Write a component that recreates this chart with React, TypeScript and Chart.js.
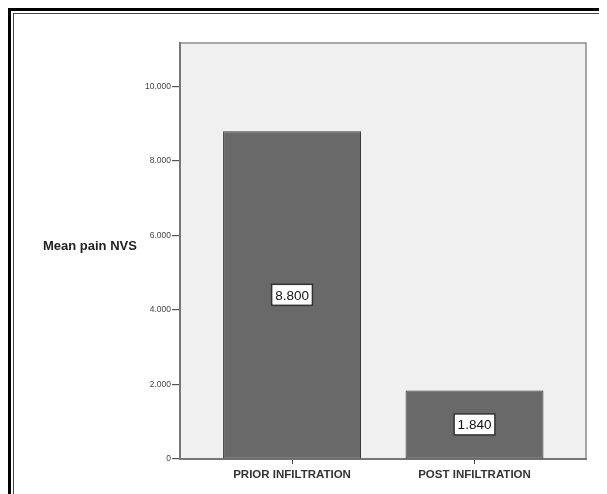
import React, { useEffect, useRef } from "react";
import { Chart, registerables } from "chart.js";

Chart.register(...registerables);

const categories = ["PRIOR INFILTRATION", "POST INFILTRATION"];
const meanPain = [8.8, 1.84];
const valueLabels = ["8.800", "1.840"];
const yTickValues = [0, 2, 4, 6, 8, 10];
const yTitle = "Mean pain NVS";

const FONT = "'Liberation Sans', Arial, sans-serif";

const framePlugin = {
  id: "framePlugin",
  beforeDraw(chart: any) {
    const { ctx, chartArea: a } = chart;
    ctx.save();
    ctx.fillStyle = "#f0f0f0";
    ctx.fillRect(a.left, a.top, a.right - a.left, a.bottom - a.top);
    ctx.strokeStyle = "#8c8c8c";
    ctx.lineWidth = 1.5;
    ctx.beginPath();
    ctx.moveTo(a.left, a.top);
    ctx.lineTo(a.right, a.top);
    ctx.lineTo(a.right, a.bottom);
    ctx.stroke();
    ctx.restore();
  },
  afterDraw(chart: any) {
    const { ctx, chartArea: a } = chart;
    ctx.save();
    ctx.font = `bold 13px ${FONT}`;
    ctx.fillStyle = "#222";
    ctx.textAlign = "left";
    ctx.textBaseline = "middle";
    ctx.fillText(yTitle, a.left - 137, (a.top + a.bottom) / 2 - 5);
    ctx.restore();
  },
};

const valueLabelPlugin = {
  id: "valueLabelPlugin",
  afterDatasetsDraw(chart: any) {
    const { ctx } = chart;
    const meta = chart.getDatasetMeta(0);
    ctx.save();
    ctx.font = `13.5px ${FONT}`;
    ctx.textAlign = "center";
    ctx.textBaseline = "middle";
    meta.data.forEach((bar: any, i: number) => {
      const props = bar.getProps(["x", "y", "base"], true);
      const cx = props.x;
      const cy = (props.y + props.base) / 2;
      const text = valueLabels[i];
      const w = ctx.measureText(text).width + 7;
      const h = 21;
      ctx.fillStyle = "#ffffff";
      ctx.fillRect(cx - w / 2, cy - h / 2, w, h);
      ctx.strokeStyle = "#333";
      ctx.lineWidth = 1.5;
      ctx.strokeRect(cx - w / 2, cy - h / 2, w, h);
      ctx.fillStyle = "#111";
      ctx.fillText(text, cx, cy + 1);
    });
    ctx.restore();
  },
};

export default function App() {
  const canvasRef = useRef<HTMLCanvasElement | null>(null);

  useEffect(() => {
    if (!canvasRef.current) return;
    const chart = new Chart(canvasRef.current, {
      type: "bar",
      data: {
        datasets: [
          {
            data: meanPain.map((v, i) => ({ x: i, y: v })),
            backgroundColor: "#696969",
            borderColor: "#3a3a3a",
            borderWidth: 1,
            borderSkipped: false,
            categoryPercentage: 1,
            barPercentage: 0.756,
          },
        ],
      },
      options: {
        animation: false,
        responsive: false,
        layout: { padding: { left: 0, top: 35, right: 21, bottom: 0 } },
        plugins: {
          legend: { display: false },
          tooltip: { enabled: false },
        },
        scales: {
          x: {
            type: "linear",
            offset: false,
            min: -0.614,
            max: 1.611,
            afterFit: (s: any) => {
              s.height = 35;
            },
            afterBuildTicks: (s: any) => {
              s.ticks = categories.map((_, i) => ({ value: i }));
            },
            grid: {
              display: true,
              offset: false,
              drawOnChartArea: false,
              drawTicks: true,
              tickLength: 5,
              color: "#444",
              lineWidth: 1,
            },
            border: { display: true, color: "#777", width: 2 },
            ticks: {
              padding: 4,
              color: "#333",
              font: { family: FONT, size: 11.5, weight: "bold" },
              maxRotation: 0,
              autoSkip: false,
              callback: (v: any) => categories[v as number] ?? "",
            },
          },
          y: {
            type: "linear",
            min: 0,
            max: 11.17,
            afterFit: (s: any) => {
              s.width = 172;
            },
            afterBuildTicks: (s: any) => {
              s.ticks = yTickValues.map((v) => ({ value: v }));
            },
            grid: {
              display: true,
              drawOnChartArea: false,
              drawTicks: true,
              tickLength: 8,
              color: "#555",
              lineWidth: 1.2,
            },
            border: { display: true, color: "#777", width: 2 },
            ticks: {
              padding: 1,
              color: "#444",
              font: { family: FONT, size: 8.5 },
              callback: (v: any) => (v === 0 ? "0" : Number(v).toFixed(3)),
            },
          },
        },
      },
      plugins: [framePlugin, valueLabelPlugin],
    } as any);
    return () => chart.destroy();
  }, []);

  return (
    <div style={{ position: "relative", width: 599, height: 486 }}>
      <div
        style={{
          position: "absolute",
          left: 0,
          top: 0,
          right: 0,
          bottom: 0,
          borderLeft: "3px solid #000",
          borderTop: "3px solid #000",
          boxSizing: "border-box",
        }}
      />
      <div
        style={{
          position: "absolute",
          left: 5,
          top: 5,
          right: 0,
          bottom: 0,
          borderLeft: "1px solid #444",
          borderTop: "1px solid #444",
          boxSizing: "border-box",
        }}
      />
      <canvas
        ref={canvasRef}
        width={599}
        height={486}
        style={{ position: "absolute", left: 0, top: 0 }}
      />
    </div>
  );
}
